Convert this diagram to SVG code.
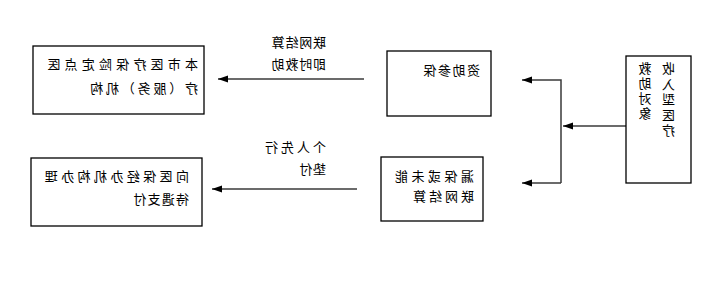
<svg xmlns="http://www.w3.org/2000/svg" width="713" height="293" viewBox="0 0 713 293">
<style>
.box{fill:#fff;stroke:#000;stroke-width:1.3}
.t{font-family:"Noto Sans CJK SC","Liberation Sans",sans-serif;font-size:13px;fill:#000}
.v{writing-mode:vertical-rl;text-orientation:upright}
.c{fill:none;stroke:#3a3a3a;stroke-width:1.5}
</style>
<defs>
<marker id="ah" markerUnits="userSpaceOnUse" markerWidth="11" markerHeight="8" refX="10" refY="4" orient="auto">
<path d="M0,0.5 L10,4 L0,7.5 z" fill="#000"/>
</marker>
</defs>
<rect width="713" height="293" fill="#fff"/>
<g transform="matrix(-1 0 0 1 713 0)">
<g id="connectors">
<line class="c" x1="349" y1="79" x2="495" y2="79" marker-end="url(#ah)"/>
<polyline class="c" points="152,183 152,80 191,80" marker-end="url(#ah)"/>
<line class="c" x1="87" y1="126" x2="150" y2="126" marker-end="url(#ah)"/>
<line class="c" x1="152" y1="183" x2="191" y2="183" marker-end="url(#ah)"/>
<line class="c" x1="356" y1="189" x2="501" y2="189" marker-end="url(#ah)"/>
<text class="t" x="387" y="47" letter-spacing="0.8">联网结算</text>
<text class="t" x="387" y="69" letter-spacing="0.8">即时救助</text>
<text class="t" x="387" y="152" letter-spacing="3">个人先行</text>
<text class="t" x="387" y="174" letter-spacing="0.5">垫付</text>
</g>
<g id="node-recipient">
<rect class="box" x="22" y="56" width="65" height="127"/>
<text class="t v" x="44.5" y="62" letter-spacing="2.5">收入型医疗</text>
<text class="t v" x="68" y="62" letter-spacing="1.7">救助对象</text>
</g>
<g id="node-subsidy">
<rect class="box" x="222" y="51" width="104" height="65"/>
<text class="t" x="233" y="75" letter-spacing="1.5">资助参保</text>
</g>
<g id="node-missed">
<rect class="box" x="230" y="157" width="102" height="64"/>
<text class="t" x="239" y="181" letter-spacing="3.5">漏保或未能</text>
<text class="t" x="239" y="201" letter-spacing="3">联网结算</text>
</g>
<g id="node-designated">
<rect class="box" x="509" y="46" width="171" height="68"/>
<text class="t" x="515" y="69" letter-spacing="4.2">本市医疗保险定点医</text>
<text class="t" x="515" y="93" letter-spacing="2.8">疗（服务）机构</text>
</g>
<g id="node-agency">
<rect class="box" x="511" y="158" width="171" height="68"/>
<text class="t" x="524" y="181" letter-spacing="3.4">向医保经办机构办理</text>
<text class="t" x="524" y="204" letter-spacing="1.2">待遇支付</text>
</g>
</g>
</svg>
